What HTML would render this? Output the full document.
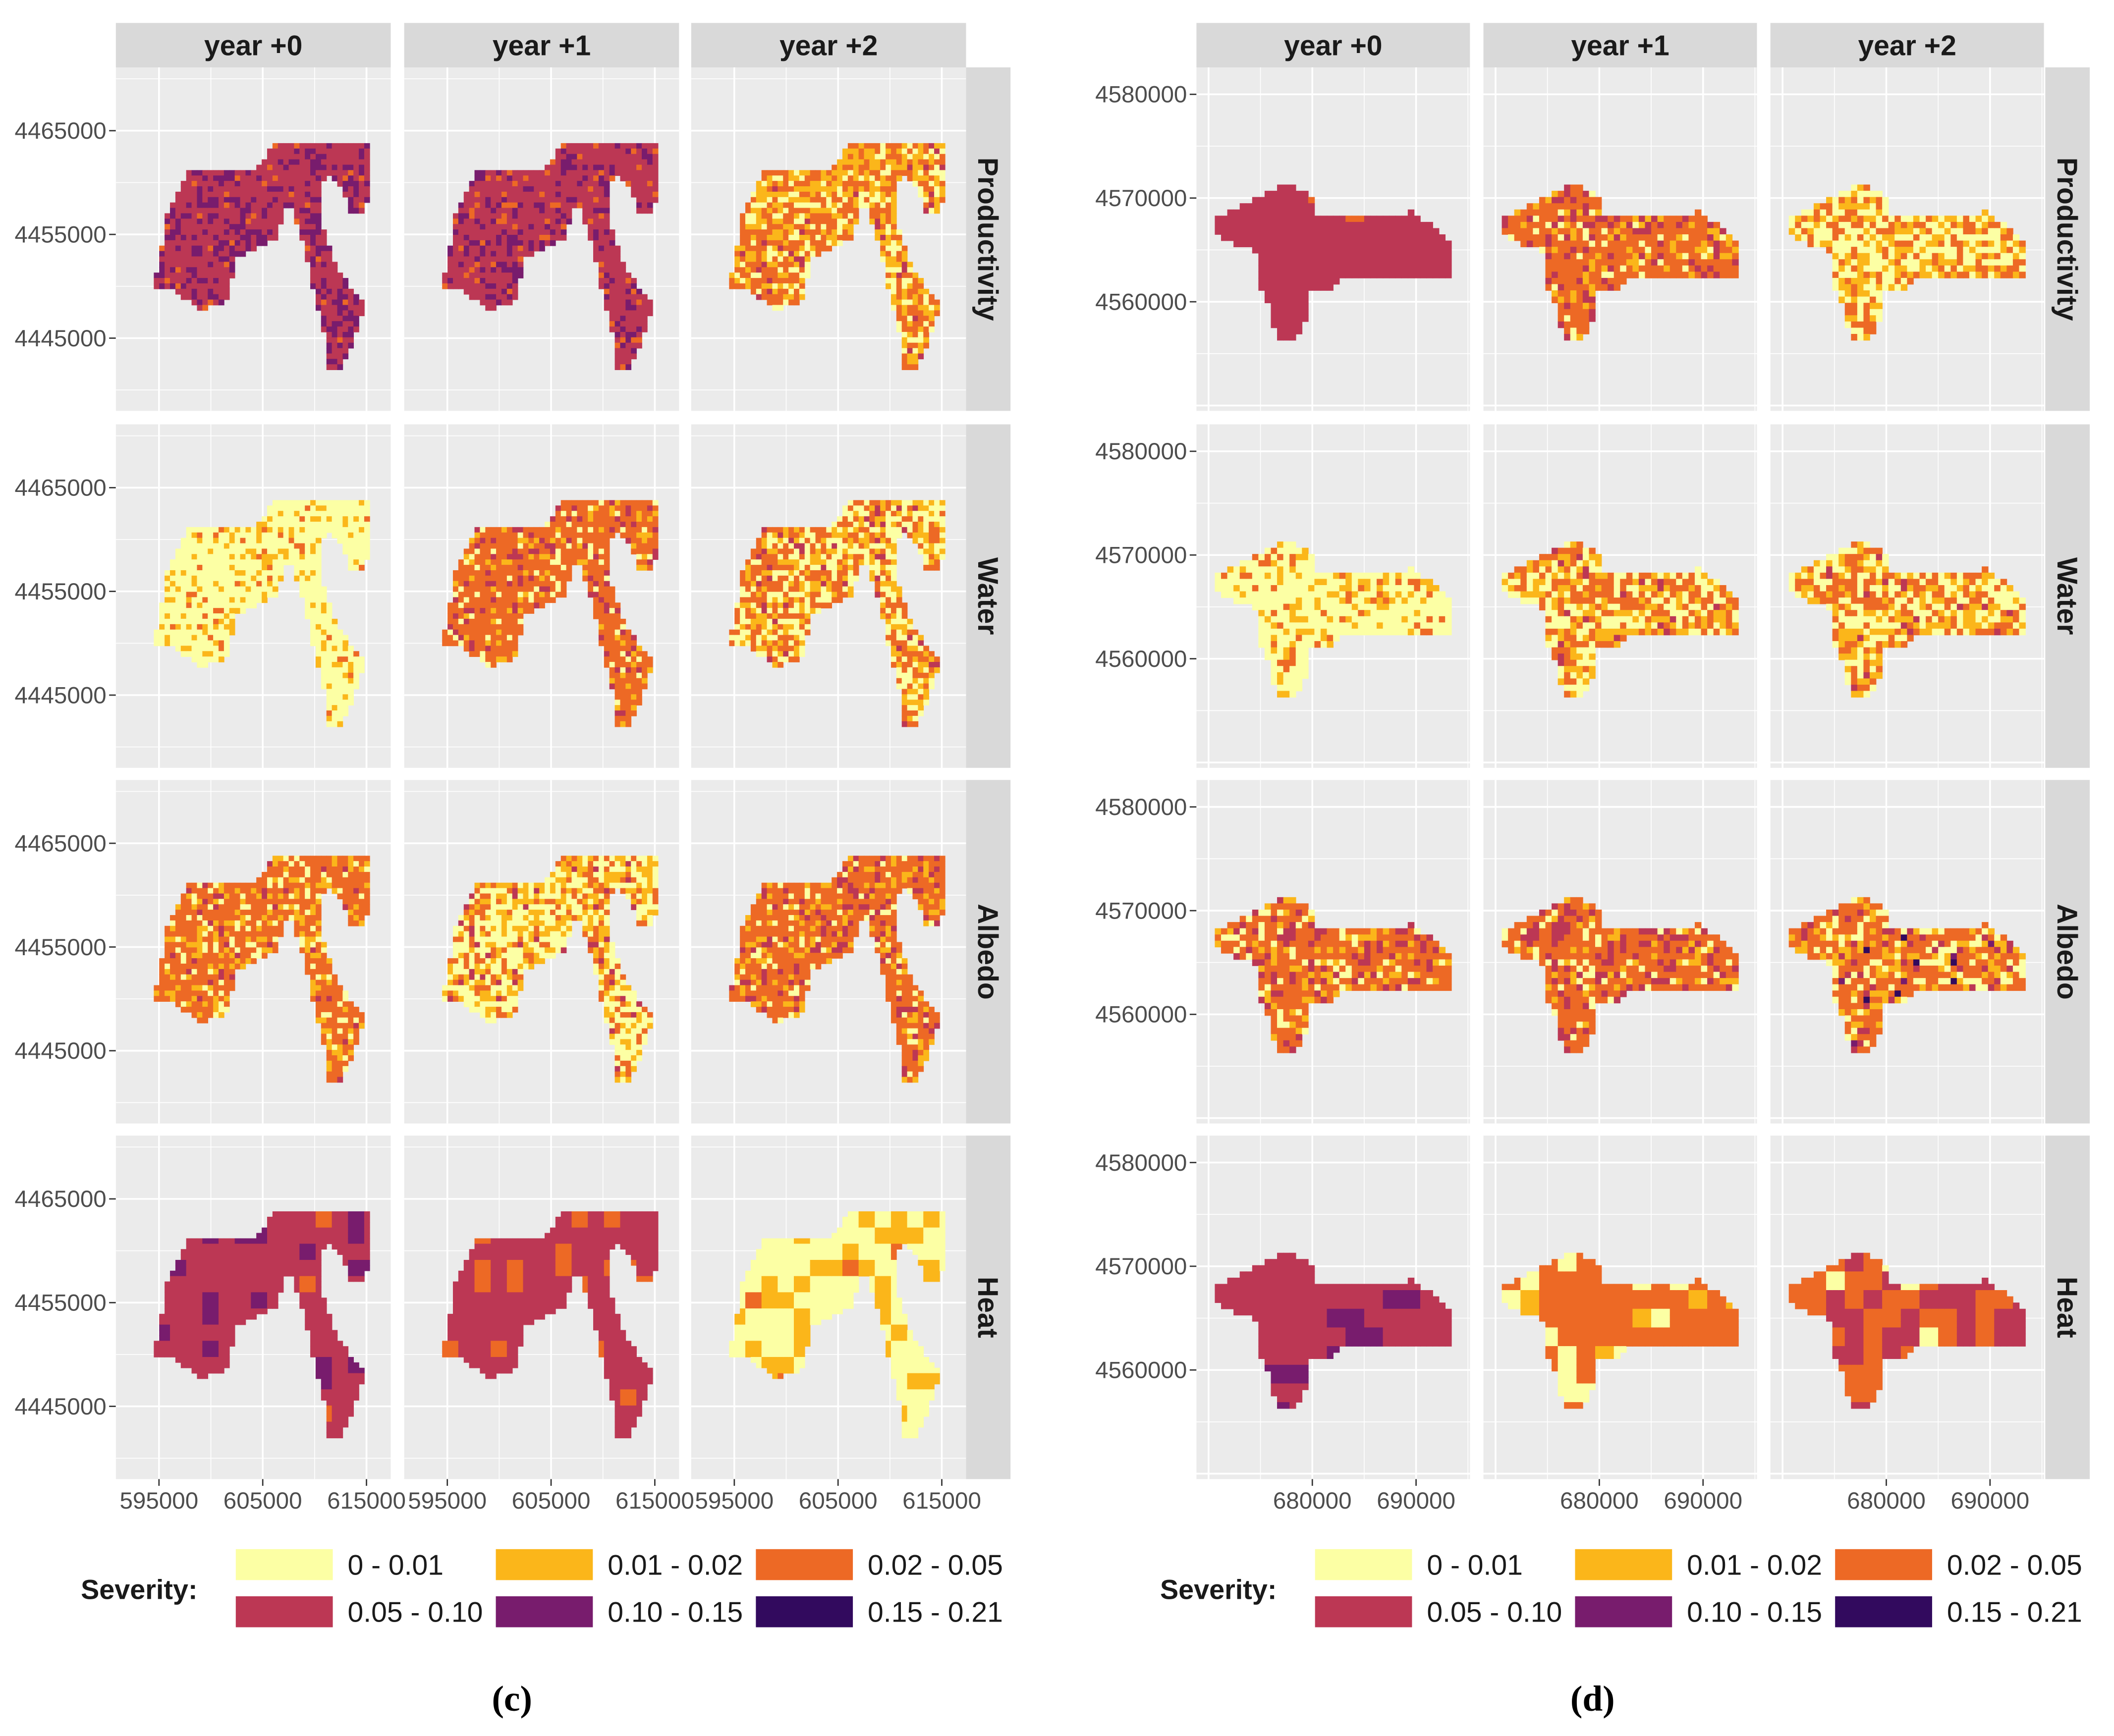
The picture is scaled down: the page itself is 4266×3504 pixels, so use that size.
<!DOCTYPE html>
<html><head><meta charset="utf-8">
<style>
html,body{margin:0;padding:0;background:#fff;}
svg{display:block;font-family:"Liberation Sans",sans-serif;}
</style></head>
<body>
<svg id="fig" width="4266" height="3504" viewBox="0 0 1569 1288.7" xmlns="http://www.w3.org/2000/svg"></svg>
<script>
// ---- data ----
const colorClasses = ["#FCFFA4","#FBB61A","#ED6925","#BC3754","#781C6D","#320A5E"];
const classLabels = ["0 - 0.01","0.01 - 0.02","0.02 - 0.05","0.05 - 0.10","0.10 - 0.15","0.15 - 0.21"];
const years = ["year +0","year +1","year +2"];
const metrics = ["Productivity","Water","Albedo","Heat"];
const cXTicks = [595000,605000,615000];
const cYTicks = [4465000,4455000,4445000];
const dXTicks = [680000,690000];
const dYTicks = [4580000,4570000,4560000];
// class mix per panel [metric][year]
const cMix = [
 [[0,0,0.05,0.65,0.3,0],[0,0,0.1,0.7,0.2,0],[0.2,0.35,0.4,0.05,0,0]],
 [[0.8,0.15,0.05,0,0,0],[0.1,0.1,0.7,0.1,0,0],[0.35,0.25,0.35,0.05,0,0]],
 [[0.15,0.2,0.6,0.05,0,0],[0.45,0.3,0.2,0.05,0,0],[0.1,0.15,0.6,0.15,0,0]],
 [[0,0,0.05,0.8,0.15,0],[0,0,0.15,0.85,0,0],[0.65,0.3,0.05,0,0,0]]
];
const dMix = [
 [[0,0,0.05,0.95,0,0],[0.1,0.15,0.6,0.15,0,0],[0.45,0.3,0.25,0,0,0]],
 [[0.7,0.2,0.1,0,0,0],[0.35,0.25,0.35,0.05,0,0],[0.4,0.25,0.3,0.05,0,0]],
 [[0.1,0.15,0.6,0.15,0,0],[0.1,0.1,0.6,0.2,0,0],[0.2,0.2,0.5,0.08,0.01,0.01]],
 [[0,0,0,0.85,0.15,0],[0.15,0.1,0.75,0,0,0],[0.05,0,0.55,0.4,0,0]]
];
// outlines (map coords, x/y)
const cOutline = [[597800,4461000],[604300,4461300],[606200,4463800],[615500,4463800],[615500,4461600],[614900,4457000],[613300,4457000],[612700,4459600],[611000,4460900],[610500,4457000],[612000,4451900],[614900,4448000],[614000,4445400],[612700,4442200],[611400,4442200],[610800,4446000],[609700,4450600],[608400,4455800],[607500,4458400],[606200,4454500],[602300,4452600],[601700,4448700],[599100,4447700],[596500,4449600],[594500,4450000],[595100,4452600],[595800,4457000]];
const dOutline = [[670900,4568100],[673500,4569400],[677000,4571300],[679600,4570700],[680600,4568300],[685800,4568100],[689700,4568700],[692300,4566700],[693600,4565400],[693600,4562200],[688400,4562200],[684500,4562200],[682500,4562200],[681300,4560900],[679300,4560900],[679900,4558900],[678600,4556600],[676400,4556600],[676000,4559600],[674700,4561500],[674700,4564800],[670600,4566400]];

const NS="http://www.w3.org/2000/svg";
const svg=document.getElementById('fig');
function el(t,a,p){const e=document.createElementNS(NS,t);for(const k in a)e.setAttribute(k,a[k]);(p||svg).appendChild(e);return e;}
function txt(s,a,p){const e=el('text',a,p);e.textContent=s;return e;}
function hash(i,j,k){let h=(i*374761393+j*668265263+k*2147483647)|0;h=(h^(h>>>13))*1274126177|0;h=h^(h>>>16);return ((h>>>0)%10000)/10000;}
function inPoly(x,y,P){let c=false;for(let i=0,j=P.length-1;i<P.length;j=i++){const xi=P[i][0],yi=P[i][1],xj=P[j][0],yj=P[j][1];if(((yi>y)!=(yj>y))&&(x<(xj-xi)*(y-yi)/(yj-yi)+xi))c=!c;}return c;}

function panelSet(cfg){
  const {colX,rowY,W,H,x0,px0,y0,py0,scale,xt,yt,outline,mix,cell,stripX,id,minorX,minorY,majorX,majorY}=cfg;
  const sx=v=>px0+(v-x0)*scale, sy=v=>py0-(v-y0)*scale;
  years.forEach((y,ci)=>{
    const s=el('rect',{x:colX[ci],y:17,width:W,height:33,fill:'#D9D9D9'});
    
    
    txt(y,{x:colX[ci]+W/2,y:41,'text-anchor':'middle','font-size':21,'font-weight':'bold',fill:'#1a1a1a'});
  });
  metrics.forEach((m,ri)=>{
    const top=rowY[ri];
    const s=el('rect',{x:stripX,y:top,width:33,height:H,fill:'#D9D9D9'});
    
    
    txt(m,{x:0,y:0,transform:`translate(${stripX+9},${top+H/2}) rotate(90)`,'text-anchor':'middle','font-size':21,'font-weight':'bold',fill:'#1a1a1a'});
    yt.forEach(v=>{const yy=top+sy(v);
      el('line',{x1:colX[0]-5,x2:colX[0],y1:yy,y2:yy,stroke:'#333','stroke-width':1});
      txt(String(v),{x:colX[0]-7,y:yy+6,'text-anchor':'end','font-size':17.5,fill:'#4d4d4d'});
    });
    years.forEach((y,ci)=>{
      const left=colX[ci];
      const g=el('g',{});
      
      
      el('rect',{x:left,y:top,width:W,height:H,fill:'#EBEBEB'},g);
      minorX.forEach(v=>{const xx=left+sx(v);if(xx>left&&xx<left+W)el('line',{x1:xx,x2:xx,y1:top,y2:top+H,stroke:'#fff','stroke-width':0.6},g);});
      minorY.forEach(v=>{const yy=top+sy(v);if(yy>top&&yy<top+H)el('line',{x1:left,x2:left+W,y1:yy,y2:yy,stroke:'#fff','stroke-width':0.6},g);});
      majorX.forEach(v=>{const xx=left+sx(v);if(xx>left&&xx<left+W)el('line',{x1:xx,x2:xx,y1:top,y2:top+H,stroke:'#fff','stroke-width':1.3},g);});
      majorY.forEach(v=>{const yy=top+sy(v);if(yy>top&&yy<top+H)el('line',{x1:left,x2:left+W,y1:yy,y2:yy,stroke:'#fff','stroke-width':1.3},g);});
      const w=mix[ri][ci];
      const xs=outline.map(p=>p[0]),ys=outline.map(p=>p[1]);
      const xmin=Math.min(...xs),xmax=Math.max(...xs),ymin=Math.min(...ys),ymax=Math.max(...ys);
      let i=0;
      for(let X=xmin;X<xmax;X+=cell,i++){let j=0;
        for(let Y=ymax;Y>ymin;Y-=cell,j++){
          if(!inPoly(X+cell/2,Y-cell/2,outline))continue;
          const b=ri===3?3:(ri===0&&id==='d'&&ci===0?3:1);
          const r=hash(Math.floor(i/b)+ci*7,Math.floor(j/b)+ri*13,id==='c'?1:2);
          let acc=0,k=0;for(;k<6;k++){acc+=w[k];if(r<acc)break;}if(k>5)k=5;
          const rc=el('rect',{x:left+sx(X),y:top+sy(Y),width:cell*scale+0.3,height:cell*scale+0.3,fill:colorClasses[k]},g);
          
          
        }}
      if(ri===3){
        xt.forEach(v=>{const xx=left+sx(v);
          el('line',{x1:xx,x2:xx,y1:top+H,y2:top+H+5,stroke:'#333','stroke-width':1});
          txt(String(v),{x:xx,y:top+H+22,'text-anchor':'middle','font-size':17.5,fill:'#4d4d4d'});
        });
      }
    });
  });
}
const rowY=[50,315,579,843];
panelSet({id:'c',colX:[86,300,513],rowY,W:204,H:255,x0:595000,px0:32,y0:4465000,py0:47,scale:77/10000,xt:cXTicks,yt:cYTicks,outline:cOutline,mix:cMix,cell:520,stripX:717,
 majorX:[595000,605000,615000],minorX:[590000,600000,610000,620000],majorY:[4465000,4455000,4445000],minorY:[4470000,4460000,4450000,4440000]});
panelSet({id:'d',colX:[888,1101,1314],rowY,W:203,H:255,x0:680000,px0:86,y0:4580000,py0:20,scale:77/10000,xt:dXTicks,yt:dYTicks,outline:dOutline,mix:dMix,cell:600,stripX:1518,
 majorX:[670000,680000,690000],minorX:[675000,685000,695000],majorY:[4580000,4570000,4560000,4550000],minorY:[4575000,4565000,4555000]});

[0,801].forEach((off,li)=>{
  const g=el('g',{});
  
  
  txt('Severity:',{x:60+off,y:1187,'font-size':20.5,'font-weight':'bold',fill:'#1a1a1a'},g);
  classLabels.forEach((lab,k)=>{
    const col=k%3,row=Math.floor(k/3);
    const x=175+off+col*193,y=1150+row*35;
    const r=el('rect',{x:x,y:y,width:72,height:23,fill:colorClasses[k]},g);
    
    
    txt(lab,{x:x+83,y:y+19,'font-size':21,fill:'#1a1a1a'},g);
  });
});
txt('(c)',{x:380,y:1270,'text-anchor':'middle','font-size':27,'font-weight':'bold','font-family':'Liberation Serif',fill:'#000'});
txt('(d)',{x:1182,y:1270,'text-anchor':'middle','font-size':27,'font-weight':'bold','font-family':'Liberation Serif',fill:'#000'});
</script>
</body></html>
